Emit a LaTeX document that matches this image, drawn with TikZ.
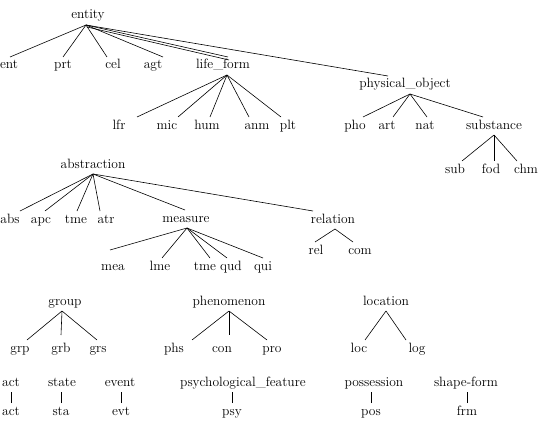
\documentclass[tikz,border=0pt]{standalone}
\begin{document}
\begin{tikzpicture}[x=1pt,y=-1pt,
  lbl/.style={font=\fontsize{13.5}{16}\selectfont, text height=9pt, text depth=3pt, inner sep=1pt, outer sep=2pt},
  edge/.style={draw=black, line width=0.6pt}]
\useasboundingbox (0,0) rectangle (543,433);
% entity tree
\node[lbl] (entity) at (88,16) {entity};
\node[lbl] (ent) at (9,66) {ent};
\node[lbl] (prt) at (63,66) {prt};
\node[lbl] (cel) at (113,66) {cel};
\node[lbl] (agt) at (153,66) {agt};
\node[lbl] (lifeform) at (223,66) {life\_form};
\node[lbl] (lfr) at (119,126) {lfr};
\node[lbl] (mic) at (167,126) {mic};
\node[lbl] (hum) at (207,126) {hum};
\node[lbl] (anm) at (257,126) {anm};
\node[lbl] (plt) at (288,126) {plt};
\node[lbl] (physobj) at (405,85) {physical\_object};
\node[lbl] (pho) at (355,126) {pho};
\node[lbl] (art) at (387,126) {art};
\node[lbl] (nat) at (425,126) {nat};
\node[lbl] (substance) at (494,126) {substance};
\node[lbl] (sub) at (455,170) {sub};
\node[lbl] (fod) at (491,170) {fod};
\node[lbl] (chm) at (526,170) {chm};
\draw[edge] ([xshift=-2pt]entity.south) -- ([xshift=1pt]ent.north);
\draw[edge] ([xshift=-2pt]entity.south) -- (prt.north);
\draw[edge] ([xshift=-2pt]entity.south) -- ([xshift=-6pt]cel.north);
\draw[edge] ([xshift=-2pt]entity.south) -- ([xshift=10pt]agt.north);
\draw[edge] ([xshift=-2pt]entity.south) -- ([xshift=5pt]lifeform.north);
\draw[edge] ([xshift=-1pt,yshift=-2pt]entity.south) -- ([xshift=6pt,yshift=-3pt]lifeform.north);
\draw[edge] ([xshift=-2pt]entity.south) -- ([xshift=-17pt]physobj.north);
\draw[edge] ([xshift=4pt]lifeform.south) -- ([xshift=18pt]lfr.north);
\draw[edge] ([xshift=4pt]lifeform.south) -- ([xshift=11pt]mic.north);
\draw[edge] ([xshift=4pt]lifeform.south) -- ([xshift=3pt]hum.north);
\draw[edge] ([xshift=4pt]lifeform.south) -- ([xshift=-8pt]anm.north);
\draw[edge] ([xshift=4pt]lifeform.south) -- ([xshift=-7pt]plt.north);
\draw[edge] ([xshift=5pt]physobj.south) -- ([xshift=8pt]pho.north);
\draw[edge] ([xshift=5pt]physobj.south) -- ([xshift=6pt]art.north);
\draw[edge] ([xshift=5pt]physobj.south) -- ([xshift=2pt]nat.north);
\draw[edge] ([xshift=5pt]physobj.south) -- ([xshift=-11pt]substance.north);
\draw[edge] (substance.south) -- ([xshift=7pt]sub.north);
\draw[edge] (substance.south) -- ([xshift=3pt]fod.north);
\draw[edge] (substance.south) -- ([xshift=-9pt]chm.north);
% abstraction tree
\node[lbl] (abstraction) at (93,165) {abstraction};
\node[lbl] (abs) at (10,220) {abs};
\node[lbl] (apc) at (41,220) {apc};
\node[lbl] (tmeA) at (76,220) {tme};
\node[lbl] (atr) at (106,220) {atr};
\node[lbl] (measure) at (186,219) {measure};
\node[lbl] (relation) at (333,220) {relation};
\node[lbl] (mea) at (113,267) {mea};
\node[lbl] (lme) at (160,267) {lme};
\node[lbl] (tmeB) at (205,267) {tme};
\node[lbl] (qud) at (231,267) {qud};
\node[lbl] (qui) at (263,267) {qui};
\node[lbl] (rel) at (316,251) {rel};
\node[lbl] (com) at (360,251) {com};
\draw[edge] (abstraction.south) -- ([xshift=10pt]abs.north);
\draw[edge] (abstraction.south) -- ([xshift=4pt]apc.north);
\draw[edge] (abstraction.south) -- ([xshift=1pt]tmeA.north);
\draw[edge] (abstraction.south) -- ([xshift=-6pt]atr.north);
\draw[edge] (abstraction.south) -- ([xshift=-1pt]measure.north);
\draw[edge] (abstraction.south) -- ([xshift=-20pt]relation.north);
\draw[edge] ([xshift=1pt]measure.south) -- ([xshift=-3pt,yshift=8pt]mea.north);
\draw[edge] ([xshift=1pt]measure.south) -- ([xshift=2pt]lme.north);
\draw[edge] ([xshift=1pt]measure.south) -- ([xshift=5pt]tmeB.north);
\draw[edge] ([xshift=1pt]measure.south) -- ([xshift=-4pt]qud.north);
\draw[edge] ([xshift=1pt]measure.south) -- (qui.north);
\draw[edge] ([xshift=2pt]relation.south) -- ([xshift=-1pt]rel.north);
\draw[edge] ([xshift=2pt]relation.south) -- ([xshift=-7pt]com.north);
% group, phenomenon, location
\node[lbl] (group) at (65,302) {group};
\node[lbl] (grp) at (20,349) {grp};
\node[lbl] (grb) at (61,349) {grb};
\node[lbl] (grs) at (98,349) {grs};
\node[lbl] (phenomenon) at (229,302) {phenomenon};
\node[lbl] (phs) at (174,349) {phs};
\node[lbl] (con) at (222,349) {con};
\node[lbl] (pro) at (272,349) {pro};
\node[lbl] (location) at (386,302) {location};
\node[lbl] (loc) at (359,349) {loc};
\node[lbl] (log) at (417,349) {log};
\draw[edge] ([xshift=-3pt]group.south) -- ([xshift=7pt]grp.north);
\draw[edge] ([xshift=-3pt]group.south) -- ([yshift=5pt]grb.north);
\draw[edge] ([xshift=-3pt]group.south) -- ([xshift=-1pt]grs.north);
\draw[edge] (phenomenon.south) -- ([xshift=18pt]phs.north);
\draw[edge] (phenomenon.south) -- ([xshift=7pt,yshift=5pt]con.north);
\draw[edge] (phenomenon.south) -- ([xshift=-5pt]pro.north);
\draw[edge] (location.south) -- ([xshift=6pt]loc.north);
\draw[edge] (location.south) -- ([xshift=-11pt]log.north);
% single chains
\node[lbl] (act) at (11,383) {act};
\node[lbl] (actc) at (11,412) {act};
\node[lbl] (state) at (62,383) {state};
\node[lbl] (sta) at (61,412) {sta};
\node[lbl] (event) at (120,383) {event};
\node[lbl] (evt) at (121,412) {evt};
\node[lbl] (psyfeat) at (243,383) {psychological\_feature};
\node[lbl] (psy) at (232,412) {psy};
\node[lbl] (possession) at (374,383) {possession};
\node[lbl] (pos) at (371,412) {pos};
\node[lbl] (shapeform) at (466,383) {shape-form};
\node[lbl] (frm) at (467,412) {frm};
\draw[edge] (actc.north) -- (actc.north |- act.south);
\draw[edge] (sta.north) -- (sta.north |- state.south);
\draw[edge] (evt.north) -- (evt.north |- event.south);
\draw[edge] (psy.north) -- (psy.north |- psyfeat.south);
\draw[edge] (pos.north) -- (pos.north |- possession.south);
\draw[edge] (frm.north) -- (frm.north |- shapeform.south);
\end{tikzpicture}
\end{document}
